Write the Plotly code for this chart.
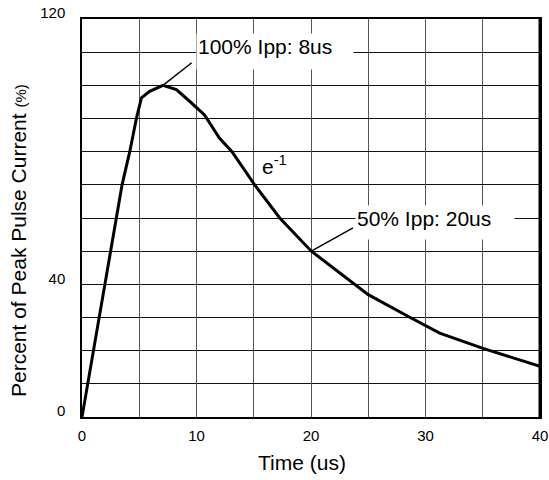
import plotly.graph_objects as go

# Pulse waveform (time in us, percent of peak current)
time_us = [0, 0.5, 1.02, 1.55, 2.0, 2.54, 3.03, 3.5, 4.17, 4.75, 5.19, 5.91, 7.07,
           8.24, 9.4, 10.7, 12.0, 13.1, 15.08, 17.27, 20.03, 22.2, 25.0, 28.5,
           31.24, 35.08, 40]
percent = [0, 10, 20, 30, 40, 50, 60, 70, 80, 90, 96.2, 98.2, 100,
           98.7, 95.2, 91.1, 84.1, 80, 70, 60, 50, 44.4, 36.9, 30.3,
           25.3, 20.6, 15.3]

x_ticks = [0, 10, 20, 30, 40]
x_grid_step = 5
y_ticks = [0, 40, 120]
y_grid_step = 10

peak_label = "100% Ipp: 8us"
peak_point = (7.07, 100)
peak_leader_end = (9.58, 106.8)
peak_label_pos = (16.83, 110.3)

half_label = "50% Ipp: 20us"
half_point = (20.03, 50)
half_leader_end = (23.67, 57.0)
half_label_pos = (30.87, 58.7)

e_label = "e<sup>-1</sup>"
e_label_pos = (15.52, 76.1)

FONT = "Arial, 'Liberation Sans', sans-serif"
VGRID = "#555555"
HGRID = "#111111"

fig = go.Figure()
fig.add_trace(go.Scatter(x=time_us, y=percent, mode="lines",
                         line=dict(color="black", width=3), showlegend=False,
                         hoverinfo="skip"))

fig.update_layout(
    width=549, height=480,
    margin=dict(l=82, r=9, t=19, b=63, autoexpand=False),
    paper_bgcolor="white", plot_bgcolor="white",
    font=dict(family=FONT, color="black"),
    xaxis=dict(range=[0, 40], tickvals=x_ticks, automargin=False,
               showgrid=True, gridcolor=VGRID, gridwidth=1.2,
               minor=dict(dtick=x_grid_step, tick0=0, showgrid=True,
                          gridcolor=VGRID, gridwidth=1.2, ticks=""),
               showline=True, linecolor="black", linewidth=1.5, mirror=True,
               ticks="", zeroline=False, tickfont=dict(size=15),
               ticklabelstandoff=4),
    yaxis=dict(range=[0, 120], tickvals=y_ticks, automargin=False,
               showgrid=True, gridcolor=HGRID, gridwidth=1.2,
               minor=dict(dtick=y_grid_step, tick0=0, showgrid=True,
                          gridcolor=HGRID, gridwidth=1.2, ticks=""),
               showline=True, linecolor="black", linewidth=1.5, mirror=True,
               ticks="", zeroline=False, tickfont=dict(size=15),
               ticklabelstandoff=12, ticklabelshift=-6),
)

# thick right frame edge
fig.add_shape(type="line", xref="x", yref="paper", x0=40, x1=40, y0=0, y1=1,
              line=dict(color="black", width=3))

# leader lines
for p, q in [(peak_point, peak_leader_end), (half_point, half_leader_end)]:
    fig.add_shape(type="line", xref="x", yref="y", x0=p[0], y0=p[1], x1=q[0], y1=q[1],
                  line=dict(color="black", width=1.5))

fig.add_annotation(x=peak_label_pos[0], y=peak_label_pos[1], xref="x", yref="y",
                   text=peak_label, showarrow=False, font=dict(size=21),
                   bgcolor="white", width=154, height=33, align="left",
                   valign="top", borderpad=1)
fig.add_annotation(x=half_label_pos[0], y=half_label_pos[1], xref="x", yref="y",
                   text=half_label, showarrow=False, font=dict(size=21),
                   bgcolor="white", width=156, height=31, align="left",
                   valign="top", borderpad=1)
fig.add_annotation(x=e_label_pos[0], y=e_label_pos[1], xref="x", yref="y",
                   text=e_label, showarrow=False, font=dict(size=21),
                   xanchor="left", yanchor="middle")

# axis titles
fig.add_annotation(x=0.481, y=-0.115, xref="paper", yref="paper",
                   text="Time (us)", showarrow=False, font=dict(size=21),
                   xanchor="center", yanchor="middle")
fig.add_annotation(x=-0.139, y=0.443, xref="paper", yref="paper",
                   text="Percent of Peak Pulse Current <span style='font-size:15px'>(%)</span>",
                   showarrow=False, font=dict(size=21), textangle=-90,
                   xanchor="center", yanchor="middle")

fig.write_html("out.html", config={"displayModeBar": False},
               post_script="document.body.style.margin='0';")
